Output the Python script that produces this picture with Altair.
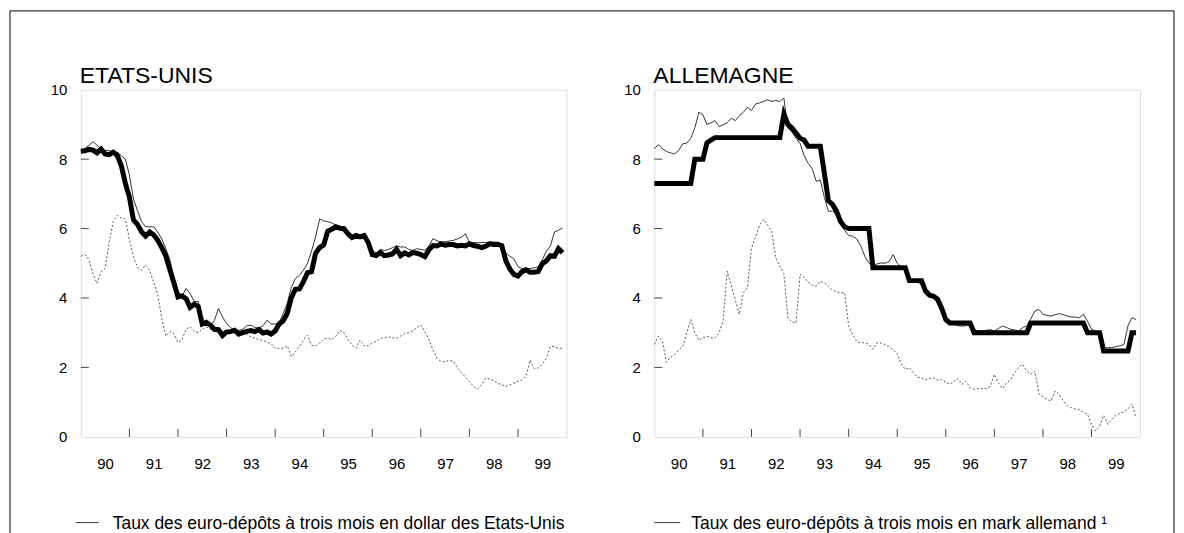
import altair as alt
import pandas as pd

# ---------------- data (monthly, Jan 1990 .. Dec 1999) ----------------
year_ticks = [1991, 1992, 1993, 1994, 1995, 1996, 1997, 1998, 1999]
label_positions = [1990.5, 1991.5, 1992.5, 1993.5, 1994.5, 1995.5, 1996.5, 1997.5, 1998.5, 1999.5]
y_tick_values = [0, 2, 4, 6, 8, 10]
y_inner_ticks = [2, 4, 6, 8]

# Etats-Unis
us_euro3m = [
    8.25, 8.3, 8.4, 8.5, 8.4, 8.3, 8.25, 8.25, 8.2, 8.2, 8.1, 8.0,
    7.55, 6.85, 6.52, 6.2, 6.05, 6.05, 6.05, 5.9, 5.7, 5.42, 5.1, 4.6,
    4.2, 4.05, 4.27, 4.13, 3.9, 3.9, 3.35, 3.3, 3.2, 3.35, 3.7, 3.45,
    3.27, 3.15, 3.07, 3.07, 3.1, 3.2, 3.22, 3.15, 3.13, 3.2, 3.36, 3.25,
    3.25, 3.3, 3.55, 3.85, 4.3, 4.56, 4.65, 4.8, 5.0, 5.35, 5.76, 6.28,
    6.22, 6.2, 6.16, 6.1, 6.0, 5.9, 5.8, 5.78, 5.8, 5.76, 5.75, 5.6,
    5.37, 5.3, 5.4, 5.37, 5.4, 5.45, 5.5, 5.47, 5.47, 5.4, 5.37, 5.42,
    5.4, 5.37, 5.5, 5.71, 5.65, 5.61, 5.62, 5.64, 5.66, 5.7, 5.75, 5.85,
    5.61, 5.6, 5.59, 5.6, 5.6, 5.61, 5.61, 5.6, 5.45, 5.3, 5.2, 5.13,
    4.9, 4.85, 4.85, 4.85, 4.87, 4.89, 5.1, 5.35, 5.5, 5.9, 5.95, 6.02,
]
us_official = [
    8.23, 8.24, 8.28, 8.26, 8.18, 8.29, 8.15, 8.13, 8.20, 8.11, 7.81, 7.31,
    6.91, 6.25, 6.12, 5.91, 5.78, 5.90, 5.82, 5.66, 5.45, 5.21, 4.81, 4.43,
    4.03, 4.06, 3.98, 3.73, 3.82, 3.76, 3.25, 3.30, 3.22, 3.10, 3.09, 2.92,
    3.02, 3.03, 3.07, 2.96, 3.00, 3.04, 3.06, 3.03, 3.09, 2.99, 3.02, 2.96,
    3.05, 3.25, 3.34, 3.56, 4.01, 4.25, 4.26, 4.47, 4.73, 4.76, 5.29, 5.45,
    5.53, 5.92, 5.98, 6.05, 6.01, 6.00, 5.85, 5.74, 5.80, 5.76, 5.80, 5.60,
    5.25, 5.22, 5.31, 5.22, 5.24, 5.27, 5.40, 5.22, 5.30, 5.24, 5.31, 5.29,
    5.25, 5.19, 5.39, 5.51, 5.50, 5.56, 5.52, 5.54, 5.54, 5.50, 5.52, 5.50,
    5.56, 5.51, 5.49, 5.45, 5.49, 5.56, 5.54, 5.55, 5.51, 5.07, 4.83, 4.68,
    4.63, 4.76, 4.81, 4.74, 4.74, 4.76, 4.99, 5.07, 5.22, 5.20, 5.42, 5.30,
]
us_dotted = [
    5.2, 5.25, 5.1, 4.7, 4.42, 4.75, 4.85, 5.6, 6.2, 6.38, 6.3, 6.28,
    5.7, 5.2, 4.88, 4.8, 4.95, 4.8, 4.45, 4.1, 3.4, 2.9, 3.03, 2.98,
    2.72, 2.8, 3.1, 3.17, 3.05, 3.0, 3.1, 3.17, 3.1, 3.03, 3.0, 3.05,
    2.98, 3.07, 3.05, 3.05, 3.03, 2.95, 2.88, 2.85, 2.8, 2.78, 2.72, 2.69,
    2.55, 2.55, 2.55, 2.62, 2.31, 2.45, 2.6, 2.79, 2.93, 2.64, 2.62, 2.7,
    2.82, 2.84, 2.8, 2.9, 3.07, 3.0, 2.8, 2.65, 2.55, 2.79, 2.62, 2.62,
    2.7, 2.75, 2.84, 2.86, 2.88, 2.85, 2.84, 2.9, 2.98, 3.0, 3.05, 3.15,
    3.22, 3.03, 2.8, 2.5, 2.25, 2.18, 2.16, 2.2, 2.18, 2.0, 1.85, 1.72,
    1.6, 1.45, 1.38, 1.5, 1.69, 1.66, 1.62, 1.54, 1.5, 1.45, 1.5, 1.55,
    1.6, 1.63, 1.75, 2.21, 1.97, 1.98, 2.1, 2.26, 2.6, 2.6, 2.55, 2.55,
]

# Allemagne
de_euro3m = [
    8.3, 8.42, 8.3, 8.22, 8.18, 8.15, 8.25, 8.44, 8.46, 8.6, 8.9, 9.35,
    9.28, 9.0, 9.05, 9.11, 8.94, 8.99, 9.05, 9.18, 9.11, 9.25, 9.35, 9.49,
    9.4, 9.59, 9.62, 9.66, 9.71, 9.66, 9.69, 9.66, 9.76, 8.9, 8.78, 8.6,
    8.45, 8.1, 7.88, 7.72, 7.36, 7.4, 6.9, 6.5, 6.5, 6.4, 6.15, 5.95,
    5.8, 5.78, 5.7, 5.5, 5.2, 5.0, 4.92, 4.98, 5.01, 5.0, 5.05, 5.25,
    5.0, 4.9, 4.82, 4.55, 4.5, 4.45, 4.4, 4.2, 4.1, 4.0, 3.85, 3.6,
    3.43, 3.28, 3.24, 3.2, 3.19, 3.2, 3.24, 3.1, 3.05, 3.05, 3.07, 3.09,
    3.05, 3.12, 3.19, 3.15, 3.1, 3.08, 3.05, 3.15, 3.19, 3.4, 3.62, 3.67,
    3.53, 3.5, 3.48, 3.52, 3.55, 3.52, 3.48, 3.45, 3.45, 3.43, 3.53, 3.33,
    3.1, 3.05, 3.0, 2.57, 2.57, 2.57, 2.6, 2.62, 2.66, 3.2, 3.43, 3.38,
]
de_official = [
    7.3, 7.3, 7.3, 7.3, 7.3, 7.3, 7.3, 7.3, 7.3, 7.3, 8.0, 8.0,
    8.0, 8.47, 8.55, 8.62, 8.62, 8.62, 8.62, 8.62, 8.62, 8.62, 8.62, 8.62,
    8.62, 8.62, 8.62, 8.62, 8.62, 8.62, 8.62, 8.62, 9.3, 9.0, 8.9, 8.75,
    8.6, 8.55, 8.37, 8.37, 8.37, 8.37, 7.6, 6.8, 6.7, 6.5, 6.2, 6.05,
    6.0, 6.0, 6.0, 6.0, 6.0, 6.0, 4.87, 4.87, 4.87, 4.87, 4.87, 4.87,
    4.87, 4.87, 4.87, 4.5, 4.5, 4.5, 4.5, 4.2, 4.08, 4.05, 3.96, 3.7,
    3.38, 3.28, 3.28, 3.28, 3.28, 3.28, 3.28, 3.0, 3.0, 3.0, 3.0, 3.0,
    3.0, 3.0, 3.0, 3.0, 3.0, 3.0, 3.0, 3.0, 3.0, 3.28, 3.28, 3.28,
    3.28, 3.28, 3.28, 3.28, 3.28, 3.28, 3.28, 3.28, 3.28, 3.28, 3.28, 3.0,
    3.0, 3.0, 3.0, 2.47, 2.47, 2.47, 2.47, 2.47, 2.47, 2.47, 3.0, 3.0,
]
de_dotted = [
    2.66, 2.9, 2.75, 2.15, 2.3, 2.37, 2.5, 2.6, 3.0, 3.38, 3.0, 2.78,
    2.85, 2.9, 2.85, 2.85, 3.0, 3.35, 4.77, 4.35, 3.95, 3.53, 4.15, 4.3,
    5.45, 5.75, 6.1, 6.26, 6.1, 5.92, 5.15, 4.92, 4.7, 3.43, 3.31, 3.28,
    4.68, 4.6, 4.45, 4.37, 4.34, 4.48, 4.44, 4.34, 4.22, 4.18, 4.15, 4.15,
    3.2, 2.95, 2.75, 2.71, 2.71, 2.66, 2.52, 2.71, 2.7, 2.66, 2.6, 2.52,
    2.4, 2.1, 1.94, 1.99, 1.85, 1.72, 1.7, 1.65, 1.68, 1.7, 1.63, 1.65,
    1.58, 1.51, 1.6, 1.68, 1.51, 1.6, 1.41, 1.37, 1.39, 1.39, 1.39, 1.46,
    1.8, 1.56, 1.39, 1.55, 1.65, 1.85, 2.0, 2.09, 1.89, 1.8, 1.89, 1.25,
    1.15, 1.08, 1.03, 1.32, 1.22, 1.05, 0.9, 0.84, 0.8, 0.78, 0.7, 0.65,
    0.36, 0.17, 0.3, 0.62, 0.36, 0.5, 0.62, 0.68, 0.72, 0.8, 0.94, 0.55,
]

titles = ["ETATS-UNIS", "ALLEMAGNE"]
legend_texts = [
    "Taux des euro-dépôts à trois mois en dollar des Etats-Unis",
    "Taux des euro-dépôts à trois mois en mark allemand \u00b9",
]

# ---------------- chart ----------------
W, H = 487, 348
FONT = "Liberation Sans"


def series_df(values):
    return pd.DataFrame({"t": [1990 + k / 12 for k in range(len(values))], "v": values})


x_enc = alt.X(
    "t:Q",
    scale=alt.Scale(domain=[1990, 2000], nice=False, zero=False),
    axis=alt.Axis(
        values=label_positions,
        labelExpr="substring(toString(floor(datum.value)), 2, 4)",
        ticks=False, tickSize=0, domain=False, grid=False,
        labelPadding=20, labelFontSize=15, labelFont=FONT, labelColor="black",
        labelOverlap=False, title=None,
    ),
)
y_enc = alt.Y(
    "v:Q",
    scale=alt.Scale(domain=[0, 10], nice=False, zero=True),
    axis=alt.Axis(
        values=y_tick_values,
        ticks=False, tickSize=0, domain=False, grid=False,
        labelPadding=14, labelFontSize=15, labelFont=FONT, labelColor="black",
        labelOverlap=False, title=None,
    ),
)


def panel(title, thin, thick, dotted, legend_text, left):
    dotted_l = alt.Chart(series_df(dotted)).mark_line(
        color="#555555", strokeWidth=1, strokeDash=[2, 2]
    ).encode(x=x_enc, y=y_enc)
    thin_l = alt.Chart(series_df(thin)).mark_line(
        color="#333333", strokeWidth=1
    ).encode(x=x_enc, y=y_enc)
    thick_l = alt.Chart(series_df(thick)).mark_line(
        color="black", strokeWidth=5, strokeJoin="miter"
    ).encode(x=x_enc, y=y_enc)

    xt = alt.Chart(pd.DataFrame({"t": year_ticks})).mark_rule(
        color="#444444", strokeWidth=1
    ).encode(x="t:Q", y=alt.value(H), y2=alt.value(H - 8))
    yt = alt.Chart(pd.DataFrame({"v": y_inner_ticks})).mark_rule(
        color="#444444", strokeWidth=1
    ).encode(y="v:Q", x=alt.value(0), x2=alt.value(8))

    one = pd.DataFrame({"label": [title], "leg": [legend_text]})
    title_l = alt.Chart(one).mark_text(
        align="left", baseline="alphabetic", fontSize=23, font=FONT, color="black"
    ).encode(text="label:N", x=alt.value(-1), y=alt.value(-7))

    lx0, lx1, tx = (-5, 18, 32) if left else (0, 26, 37)
    leg_line = alt.Chart(one).mark_rule(color="#333333", strokeWidth=1).encode(
        x=alt.value(lx0), x2=alt.value(lx1), y=alt.value(H + 86)
    )
    leg_text = alt.Chart(one).mark_text(
        align="left", baseline="alphabetic", fontSize=17.5, font=FONT, color="black"
    ).encode(text="leg:N", x=alt.value(tx), y=alt.value(H + 92))

    layers = [dotted_l, thin_l, thick_l, xt, yt, title_l, leg_line, leg_text]
    if left:
        frame = alt.Chart(one).mark_rect(
            fillOpacity=0, stroke="black", strokeWidth=1
        ).encode(x=alt.value(-71), x2=alt.value(1096), y=alt.value(-79), y2=alt.value(640))
        layers.append(frame)
    return alt.layer(*layers).properties(width=W, height=H)


left = panel(titles[0], us_euro3m, us_official, us_dotted, legend_texts[0], True)
right = panel(titles[1], de_euro3m, de_official, de_dotted, legend_texts[1], False)

chart = alt.hconcat(left, right, spacing=88, bounds="flush").properties(
    padding={"left": 1, "top": 1, "right": 1, "bottom": 1}
).configure_view(stroke="#222222", strokeWidth=1).configure(background="white")

chart.save("out.html", embed_options={"renderer": "svg", "actions": False})
